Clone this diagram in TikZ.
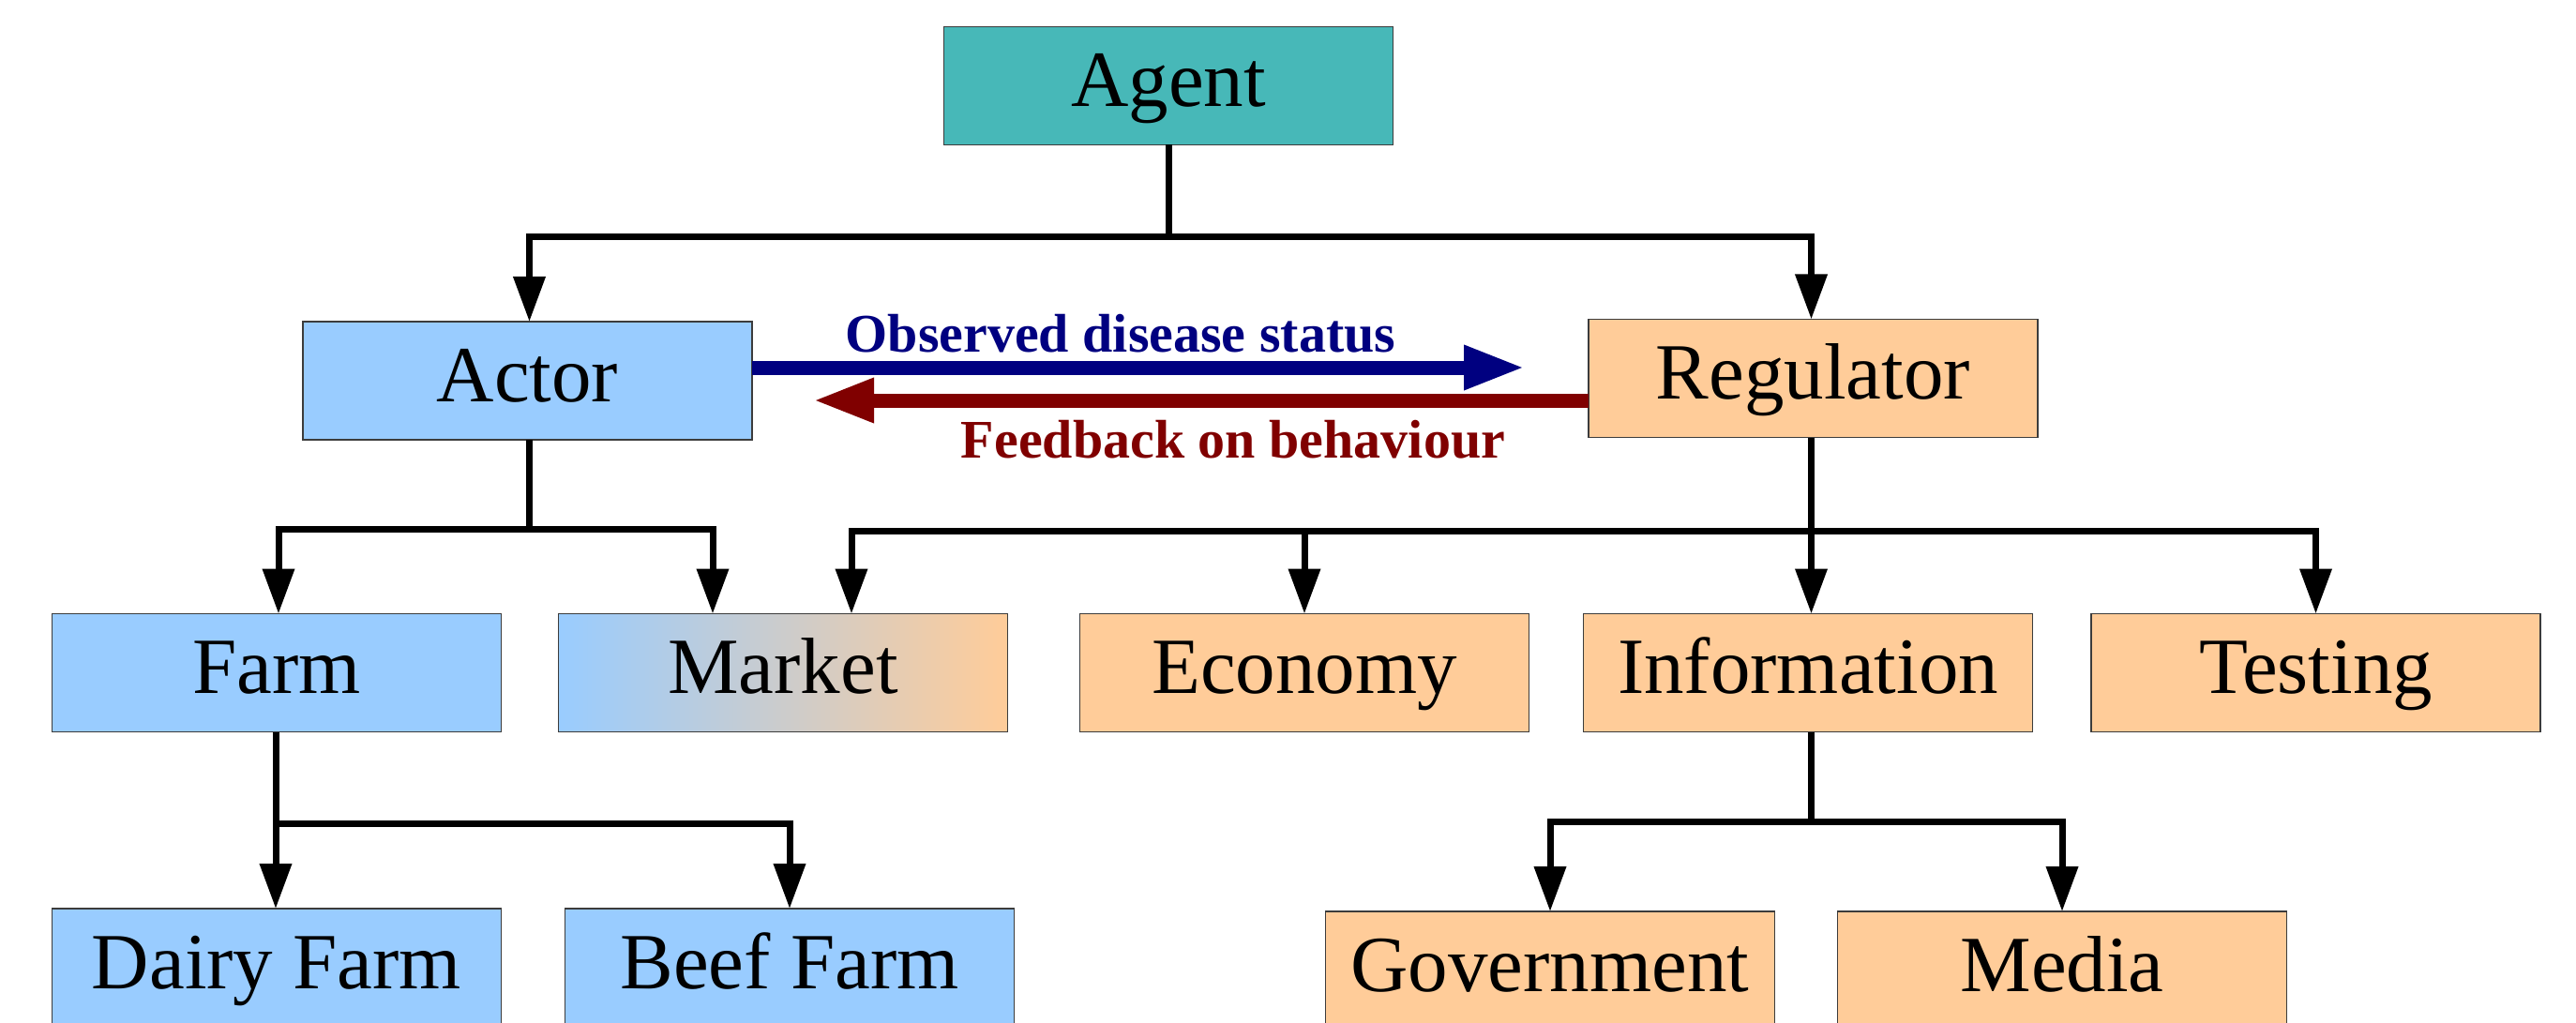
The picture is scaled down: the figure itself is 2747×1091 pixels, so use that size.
\documentclass[tikz,border=0pt]{standalone}
\usepackage{fontspec}
\setmainfont{Liberation Serif}
\usetikzlibrary{arrows.meta}
\definecolor{agentc}{RGB}{71,184,184}
\definecolor{actorc}{RGB}{153,204,255}
\definecolor{regc}{RGB}{255,204,153}
\definecolor{bordc}{RGB}{60,60,60}
\definecolor{navyc}{RGB}{0,0,128}
\definecolor{maroonc}{RGB}{128,0,0}
\tikzset{
  box/.style={draw=bordc, line width=1.5pt, minimum width=479pt, minimum height=126pt,
    inner sep=0pt, outer sep=0pt, font=\fontsize{85}{100}\selectfont,
    text height=61pt, text depth=17pt},
  agentbox/.style={box, fill=agentc},
  actbox/.style={box, fill=actorc},
  regbox/.style={box, fill=regc},
  mixbox/.style={box, left color=actorc, right color=regc},
  conn/.style={line width=7pt, black},
  arr/.style={-{Triangle[length=48pt,width=33pt]}},
  bluearr/.style={line width=15pt, navyc, -{Triangle[length=65pt,width=44pt]}},
  redarr/.style={line width=15pt, maroonc, -{Triangle[length=65pt,width=44pt]}},
  lbl/.style={font=\fontsize{58}{70}\selectfont\bfseries, anchor=base, inner sep=0pt}
}
\begin{document}
\begin{tikzpicture}[x=1pt,y=-1pt]
\useasboundingbox (0,0) rectangle (2747,1091);
% nodes
\node[agentbox] (agent) at (1246,91.5) {Agent};
\node[actbox] (actor) at (562.5,406) {Actor};
\node[regbox] (regulator) at (1933.5,403.5) {Regulator};
\node[actbox] (farm) at (295,717.5) {Farm};
\node[mixbox] (market) at (835,717.5) {Market};
\node[regbox] (economy) at (1391,717.5) {Economy};
\node[regbox] (information) at (1928,717.5) {Information};
\node[regbox] (testing) at (2469.5,717.5) {Testing};
\node[actbox] (dairy) at (295,1032) {Dairy Farm};
\node[actbox] (beef) at (842,1032) {Beef Farm};
\node[regbox] (government) at (1653,1035) {Government};
\node[regbox] (media) at (2199,1035) {Media};
% agent branch
\draw[conn] (agent.south) -- ++(0,98) coordinate (ja);
\draw[conn,arr] (ja) -| ([xshift=2pt]actor.north);
\draw[conn,arr] (ja) -| ([xshift=-2pt]regulator.north);
% actor branch
\draw[conn] ([xshift=2pt]actor.south) -- ++(0,95) coordinate (jb);
\draw[conn,arr] (jb) -| ([xshift=2pt]farm.north);
\draw[conn,arr] (jb) -| ([xshift=-75pt]market.north);
% regulator branch
\draw[conn,arr] ([xshift=-2pt]regulator.south) -- ([xshift=-2pt]regulator.south |- information.north);
\draw[conn] ([xshift=-2pt]regulator.south) ++(0,100) coordinate (jc);
\draw[conn,arr] (jc) -| ([xshift=73pt]market.north);
\draw[conn,arr] (jc) -| (economy.north);
\draw[conn,arr] (jc) -| (testing.north);
% farm branch
\draw[conn,arr] ([xshift=-1pt]farm.south) -- ([xshift=-1pt]farm.south |- dairy.north);
\draw[conn] ([xshift=-1pt]farm.south) ++(0,98) coordinate (jd);
\draw[conn,arr] (jd) -| (beef.north);
% information branch
\draw[conn] ([xshift=3pt]information.south) -- ++(0,96) coordinate (je);
\draw[conn,arr] (je) -| (government.north);
\draw[conn,arr] (je) -| (media.north);
% interaction arrows
\draw[bluearr] ([yshift=14pt]actor.east) -- ++(824,0) coordinate (bt);
\draw[redarr] ([yshift=-23.5pt]regulator.west) -- ++(-827,0) coordinate (rt);
\node[lbl, text=navyc] (obs) at (1195,375) {Observed disease status};
\node[lbl, text=maroonc] (fb) at (1315,488) {Feedback on behaviour};
\end{tikzpicture}
\end{document}
